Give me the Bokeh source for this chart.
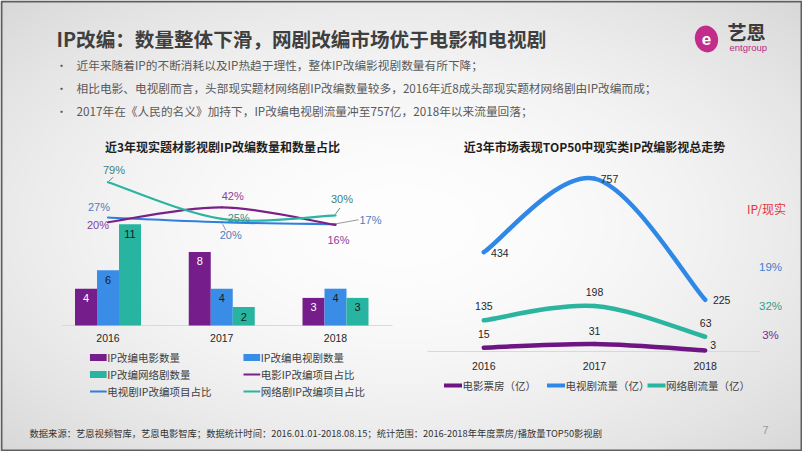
import numpy as np
from bokeh.plotting import figure
from bokeh.models import Range1d
from bokeh.core.properties import value
from bokeh.embed import file_html
from bokeh.resources import INLINE

# ---------------- data ----------------
years = ["2016", "2017", "2018"]
movie_cnt = [4, 8, 3]
tv_cnt = [6, 4, 4]
web_cnt = [11, 2, 3]
movie_pct = [20, 42, 16]
tv_pct = [27, 20, 17]
web_pct = [79, 25, 30]
box_office = [15, 31, 3]
tv_flow = [434, 757, 225]
web_flow = [135, 198, 63]
ratio_labels = ["19%", "32%", "3%"]          # TV, web, movie  (IP / reality)

title_text = "IP改编：数量整体下滑，网剧改编市场优于电影和电视剧"
bullets = [
    "近年来随着IP的不断消耗以及IP热趋于理性，整体IP改编影视剧数量有所下降；",
    "相比电影、电视剧而言，头部现实题材网络剧IP改编数量较多，2016年近8成头部现实题材网络剧由IP改编而成；",
    "2017年在《人民的名义》加持下，IP改编电视剧流量冲至757亿，2018年以来流量回落；",
]
left_title = "近3年现实题材影视剧IP改编数量和数量占比"
right_title = "近3年市场表现TOP50中现实类IP改编影视总走势"
left_legend = ["IP改编电影数量", "IP改编电视剧数量", "IP改编网络剧数量",
               "电影IP改编项目占比", "电视剧IP改编项目占比", "网络剧IP改编项目占比"]
right_legend = ["电影票房（亿）", "电视剧流量（亿）", "网络剧流量（亿）"]
footer = "数据来源：艺恩视频智库，艺恩电影智库；数据统计时间：2016.01.01-2018.08.15；统计范围：2016-2018年年度票房/播放量TOP50影视剧"

PURPLE = "#761d8c"
BLUE = "#3a8de6"
TEAL = "#27b4a0"
L_PURPLE = "#7a2188"
L_BLUE = "#2f7fdc"
L_TEAL = "#2bb5a0"
CJK = "Noto Sans CJK SC"
NUM = "Liberation Sans"

W, H = 802, 451
p = figure(width=W, height=H, x_range=Range1d(0, W), y_range=Range1d(H, 0),
           output_backend="svg", toolbar_location=None, title=None, min_border=0,
           x_axis_location=None, y_axis_location=None)
p.grid.visible = False
p.outline_line_color = None
p.background_fill_color = "white"
p.border_fill_color = "white"


def xr(v0, p0, k):
    s = v0 - p0 / k
    return Range1d(s, s + W / k)


def yr(v0, p0, k):
    e = v0 + p0 / k
    return Range1d(e - H / k, e)


KLX, KLY, KLP = 113.75, 9.2, 0.678
KRX, KRY = 110.7, 0.2278
p.extra_x_ranges = {"lx": xr(0, 107.5, KLX), "rx": xr(0, 483.3, KRX)}
p.extra_y_ranges = {"ly": yr(0, 325, KLY), "lp": yr(0, 235.3, KLP), "ry": yr(0, 350.6, KRY)}

# ---------------- background gradient ----------------
gh, gw = 226, 401
yy, xx = np.mgrid[0:gh, 0:gw]
dx = (xx / (gw - 1) - 0.5) * 2
dy = (yy / (gh - 1) - 0.5) * 2
d = np.sqrt(dx ** 2 + dy ** 2) / np.sqrt(2)
v = np.clip(254 - 38 * d ** 1.8, 0, 255).astype(np.uint32)
img = (np.uint32(255) << 24) | (v << 16) | (v << 8) | v
p.image_rgba(image=[img.astype(np.uint32)], x=0, y=0, dw=W, dh=H)
# slide border
p.rect(x=[W / 2], y=[H / 2], width=W - 2, height=H - 2, fill_color=None,
       line_color="#5f5f5f", line_width=2)


def txt(x, y, s, size, color="#404040", font=CJK, bold=False, align="left", **kw):
    p.text(x=[x], y=[y], text=[s], text_font=value(font), text_font_size=f"{size}px",
           text_color=color, text_align=align, text_baseline="middle",
           text_font_style="bold" if bold else "normal", **kw)


# ---------------- header ----------------
txt(56, 38, title_text, 19.6, color="#3f3f3f", bold=True)
for i, b in enumerate(bullets):
    yb = 64 + 23 * i
    txt(61, yb, "•", 11, color="#555555", align="center")
    txt(76, yb, b, 11.7, color="#595959")

# logo
p.ellipse(x=[706], y=[38.5], width=23, height=27, angle=0.25, fill_color="#c22d8c", line_color=None)
txt(706, 38, "e", 17, color="white", font=NUM, bold=True, align="center")
txt(727, 31, "艺恩", 19, color="#3a3a3a", bold=True)
txt(729, 47, "entgroup", 9.5, color="#b62a85", font=NUM)

# ---------------- left chart ----------------
txt(222, 146, left_title, 12, color="#1e1e1e", bold=True, align="center")
p.segment(x0=[61], y0=[325], x1=[392], y1=[325], line_color="#d9d9d9", line_width=1)

idx = np.arange(len(years))
bw = 22 / KLX
for off, vals, col, lc in [(-bw, movie_cnt, PURPLE, "white"), (0, tv_cnt, BLUE, "#1a1a1a"),
                           (bw, web_cnt, TEAL, "#1a1a1a")]:
    p.vbar(x=idx + off, top=vals, bottom=0, width=bw, fill_color=col, line_color=None,
           x_range_name="lx", y_range_name="ly")
    p.text(x=idx + off, y=vals, text=[str(t) for t in vals], text_font=value(NUM),
           text_font_size="11px", text_color=lc, text_align="center", text_baseline="middle",
           y_offset=9.5, x_range_name="lx", y_range_name="ly")

for i, yv in enumerate(years):
    p.text(x=[idx[i]], y=[325], text=[yv], text_font=value(NUM), text_font_size="10.5px",
           text_color="#262626", text_align="center", text_baseline="middle", y_offset=12,
           x_range_name="lx")


def smooth(xs, ys):
    P = list(zip(xs, ys))
    n = len(P)
    out = {k: [] for k in ["x0", "y0", "x1", "y1", "cx0", "cy0", "cx1", "cy1"]}
    for i in range(n - 1):
        pm, a, b, pn = P[max(i - 1, 0)], P[i], P[i + 1], P[min(i + 2, n - 1)]
        out["x0"].append(a[0]); out["y0"].append(a[1])
        out["x1"].append(b[0]); out["y1"].append(b[1])
        out["cx0"].append(a[0] + (b[0] - pm[0]) / 6); out["cy0"].append(a[1] + (b[1] - pm[1]) / 6)
        out["cx1"].append(b[0] - (pn[0] - a[0]) / 6); out["cy1"].append(b[1] - (pn[1] - a[1]) / 6)
    return out


for vals, col in [(tv_pct, L_BLUE), (movie_pct, L_PURPLE), (web_pct, L_TEAL)]:
    p.bezier(**smooth(list(idx), vals), line_color=col, line_width=2.2, line_cap="round",
             x_range_name="lx", y_range_name="lp")

# percentage labels: (series values, index, dx, dy, color)
pct_lab = [
    (movie_pct, 0, -10, 3, "#8a3d9a"), (movie_pct, 1, 11, -11, "#8a3d9a"), (movie_pct, 2, 3, 15, "#8a3d9a"),
    (tv_pct, 0, -9, -10, "#4a7fc0"), (tv_pct, 1, 9, 12.5, "#4a7fc0"), (tv_pct, 2, 35, -4.5, "#4a7fc0"),
    (web_pct, 0, 6, -12.5, "#3f7f7a"), (web_pct, 1, 17, -0.7, "#3f8f85"), (web_pct, 2, 6.5, -16, "#3f7f7a"),
]
for vals, i, ox, oy, c in pct_lab:
    p.text(x=[idx[i]], y=[vals[i]], text=[f"{vals[i]}%"], text_font=value(NUM),
           text_font_size="11px", text_color=c, text_align="center", text_baseline="middle",
           x_offset=ox, y_offset=oy, x_range_name="lx", y_range_name="lp")

# leader lines (pixel offsets converted to data units)
leaders = [(web_pct, 0, 1, -1, 5, -5, "#5a8a86"), (web_pct, 2, 0, -1.5, 4.5, -7.5, "#5a8a86"),
           (tv_pct, 2, 0.5, -0.5, 23, -4.5, "#9a9a9a"), (tv_pct, 1, 1, 2, 4, 8, "#7a9ac0")]
for vals, i, ax, ay, bx, by, c in leaders:
    p.segment(x0=[idx[i] + ax / KLX], y0=[vals[i] - ay / KLP], x1=[idx[i] + bx / KLX],
              y1=[vals[i] - by / KLP], line_color=c, line_width=1,
              x_range_name="lx", y_range_name="lp")

# left legend
rows = [357, 374, 391]
cols = [89.5, 243]
items = [("rect", PURPLE), ("rect", BLUE), ("rect", TEAL), ("line", L_PURPLE), ("line", L_BLUE), ("line", L_TEAL)]
for k, (kind, c) in enumerate(items):
    cx, cy = cols[k % 2], rows[k // 2]
    if kind == "rect":
        p.rect(x=[cx + 8.3], y=[cy], width=16.7, height=7, fill_color=c, line_color=None)
    else:
        p.segment(x0=[cx], y0=[cy], x1=[cx + 16.7], y1=[cy], line_color=c, line_width=2)
    txt(cx + 17.2, cy, left_legend[k], 10.5, color="#404040")

# ---------------- right chart ----------------
txt(594, 146, right_title, 12, color="#1e1e1e", bold=True, align="center")
p.segment(x0=[427], y0=[351], x1=[760], y1=[351], line_color="#d9d9d9", line_width=1)
ridx = np.arange(len(years))
for vals, col in [(box_office, "#6e1584"), (web_flow, L_TEAL), (tv_flow, "#2f88e6")]:
    p.bezier(**smooth(list(ridx), vals), line_color=col, line_width=4.5, line_cap="round",
             x_range_name="rx", y_range_name="ry")

for i, yv in enumerate(years):
    p.text(x=[ridx[i]], y=[351], text=[yv], text_font=value(NUM), text_font_size="10.5px",
           text_color="#262626", text_align="center", text_baseline="middle", y_offset=14,
           x_range_name="rx")

r_lab = [(tv_flow, 0, 16, 0.5), (tv_flow, 1, 15, 0), (tv_flow, 2, 16.5, 0.5),
         (web_flow, 0, 0, -14), (web_flow, 1, 0, -13.5), (web_flow, 2, 0.5, -13.5),
         (box_office, 0, 0, -14), (box_office, 1, 0, -13), (box_office, 2, 8, -5.5)]
for vals, i, ox, oy in r_lab:
    p.text(x=[ridx[i]], y=[vals[i]], text=[str(vals[i])], text_font=value(NUM),
           text_font_size="10.5px", text_color="#262626", text_align="center",
           text_baseline="middle", x_offset=ox, y_offset=oy, x_range_name="rx", y_range_name="ry")

txt(766, 208, "IP/现实", 12, color="#e5343a", align="center")
for s, yy_, c in zip(ratio_labels, [266, 305, 334], ["#3a7fd0", "#2e9e8e", "#7a2a8e"]):
    txt(770, yy_, s, 11.5, color=c, font=NUM, align="center")

# right legend
for (x0, c), lab in zip([(443.5, "#6e1584"), (546.5, "#2f88e6"), (647, L_TEAL)], right_legend):
    p.segment(x0=[x0], y0=[385], x1=[x0 + 18], y1=[385], line_color=c, line_width=4)
    txt(x0 + 18.5, 385, lab, 10.5, color="#404040")

# ---------------- footer ----------------
txt(29, 432, footer, 9.3, color="#333333")
txt(765, 429, "7", 11, color="#9a9a9a", font=NUM, align="center")

open("out.html", "w").write(file_html(p, INLINE))
